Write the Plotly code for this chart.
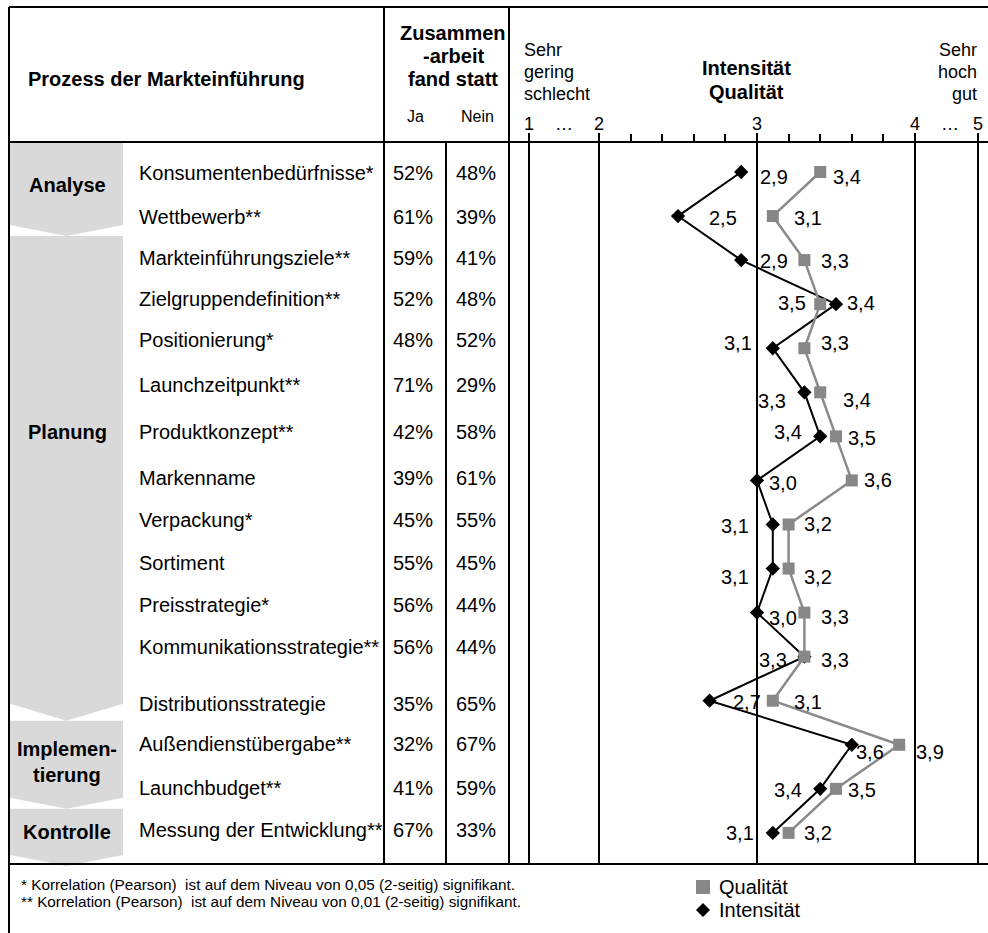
import plotly.graph_objects as go

W, H = 988, 933

# ---------------- data ----------------
activities = [
    "Konsumentenbedürfnisse*", "Wettbewerb**", "Markteinführungsziele**",
    "Zielgruppendefinition**", "Positionierung*", "Launchzeitpunkt**",
    "Produktkonzept**", "Markenname", "Verpackung*", "Sortiment",
    "Preisstrategie*", "Kommunikationsstrategie**", "Distributionsstrategie",
    "Außendienstübergabe**", "Launchbudget**", "Messung der Entwicklung**",
]
ja = [52, 61, 59, 52, 48, 71, 42, 39, 45, 55, 56, 56, 35, 32, 41, 67]
nein = [48, 39, 41, 48, 52, 29, 58, 61, 55, 45, 44, 44, 65, 67, 59, 33]
intensitaet = [2.9, 2.5, 2.9, 3.5, 3.1, 3.3, 3.4, 3.0, 3.1, 3.1, 3.0, 3.3, 2.7, 3.6, 3.4, 3.1]
qualitaet = [3.4, 3.1, 3.3, 3.4, 3.3, 3.4, 3.5, 3.6, 3.2, 3.2, 3.3, 3.3, 3.1, 3.9, 3.5, 3.2]

stages = ["Analyse", "Planung", "Implemen-", "Kontrolle"]
stage_rows = [(0, 1), (2, 12), (13, 14), (15, 15)]

scale_tickvals = [1.56, 2, 3, 4, 4.4]        # compressed scale: 1 and 5 drawn close to 2 and 4
scale_ticktext = ["1", "2", "3", "4", "5"]
gap_tickvals = [1.78, 4.22]                   # "…" marks of the compressed parts
minor_tickvals = [2.2, 2.4, 2.6, 2.8, 3.2, 3.4, 3.6, 3.8]

footnotes = [
    "* Korrelation (Pearson) \u00a0ist auf dem Niveau von 0,05 (2-seitig) signifikant.",
    "** Korrelation (Pearson) \u00a0ist auf dem Niveau von 0,01 (2-seitig) signifikant.",
]

# ---------------- layout helpers (pixels -> paper) ----------------
def X(px):
    return px / W

def Y(py):
    return 1 - py / H

FONT = "Arial, Liberation Sans, sans-serif"
TOP, HEAD, BOT = 7, 142, 864
ROW0, ROWSTEP = 172, 44.06
Y_RANGE = [(BOT - ROW0) / ROWSTEP, (HEAD - ROW0) / ROWSTEP]
X_LEFT, UNIT, X3 = 509, 158, 757
X_RANGE = [3 - (X3 - X_LEFT) / UNIT, 3 + (W - X3) / UNIT]

def row_to_px(r):
    return ROW0 + r * ROWSTEP

fig = go.Figure()

# data series
fig.add_trace(go.Scatter(
    x=intensitaet, y=list(range(len(activities))), mode="lines+markers",
    name="Intensität", line=dict(color="black", width=2),
    marker=dict(symbol="diamond", size=11, color="black"),
    cliponaxis=False, hoverinfo="skip", showlegend=False))
fig.add_trace(go.Scatter(
    x=qualitaet, y=list(range(len(activities))), mode="lines+markers",
    name="Qualität", line=dict(color="#8a8a8a", width=2.5),
    marker=dict(symbol="square", size=12, color="#878787"),
    cliponaxis=False, hoverinfo="skip", showlegend=False))

shapes = []
ann = []

def line(x0, y0, x1, y1, w=2):
    shapes.append(dict(type="line", xref="paper", yref="paper",
                       x0=X(x0), y0=Y(y0), x1=X(x1), y1=Y(y1),
                       line=dict(color="black", width=w)))

# stage chevrons (gray)
CX0, CX1 = 10, 123
CM = (CX0 + CX1) / 2
prev_tip = HEAD + 1
for (a, b) in stage_rows:
    tip = (row_to_px(b) + row_to_px(b + 1)) / 2 - 2
    if b == len(activities) - 1:
        tip = BOT + 2
    depth = 17 if (b - a) > 5 else 11
    edge = tip - depth
    path = (f"M {X(CX0)},{Y(prev_tip)} L {X(CX1)},{Y(prev_tip)} L {X(CX1)},{Y(edge)} "
            f"L {X(CM)},{Y(tip)} L {X(CX0)},{Y(edge)} Z")
    shapes.append(dict(type="path", xref="paper", yref="paper", path=path,
                       fillcolor="#d9d9d9", line=dict(width=0), layer="below"))
    prev_tip = tip

# table lines
line(9, TOP, W, TOP)
line(9, HEAD, W, HEAD)
line(9, BOT, W, BOT)
line(9, TOP, 9, H)
line(384, TOP, 384, BOT)
line(446, HEAD, 446, BOT)
line(509, TOP, 509, BOT)

def text(px, py, s, size=20, bold=False, anchor="center"):
    ann.append(dict(xref="paper", yref="paper", x=X(px), y=Y(py),
                    text=f"<b>{s}</b>" if bold else s, showarrow=False,
                    xanchor=anchor, yanchor="middle",
                    font=dict(family=FONT, size=size, color="black")))

# header
text(166, 79, "Prozess der Markteinführung", bold=True)
text(453, 33, "Zusammen", bold=True)
text(453, 56, "-arbeit", bold=True)
text(453, 79, "fand statt", bold=True)
text(415, 117, "Ja", size=16)
text(477, 117, "Nein", size=16)
text(522, 50, "Sehr", size=18, anchor="left")
text(522, 72, "gering", size=18, anchor="left")
text(522, 94, "schlecht", size=18, anchor="left")
text(979, 50, "Sehr", size=18, anchor="right")
text(979, 72, "hoch", size=18, anchor="right")
text(979, 94, "gut", size=18, anchor="right")
text(746, 68, "Intensität", bold=True)
text(746, 92, "Qualität", bold=True)

# scale labels above the ticks
for v, s in list(zip(scale_tickvals, scale_ticktext)) + [(g, "…") for g in gap_tickvals]:
    ann.append(dict(xref="x", yref="paper", x=v, y=Y(124), text=s, showarrow=False,
                    xanchor="center", yanchor="middle",
                    font=dict(family=FONT, size=18, color="black")))

# stage labels
stage_label_px = [185, 432, None, 832]
for s, py in zip(stages, stage_label_px):
    if s == "Implemen-":
        text(67, 749, "Implemen-", bold=True)
        text(67, 775, "tierung", bold=True)
    else:
        text(67, py, s, bold=True)

# row labels and percentages (aligned to the data rows)
label_dy = [1, 1, -2, -5, -8, -7, -4, -2, -4, -6, -8, -10, 3, -1, -1, -3]
for i, (act, j, n) in enumerate(zip(activities, ja, nein)):
    for xp, s, anc in [(137, act, "left"), (413, f"{j}%", "center"), (476, f"{n}%", "center")]:
        ann.append(dict(xref="paper", yref="y", x=X(xp), y=i, yshift=-label_dy[i],
                        text=s, showarrow=False, xanchor=anc, yanchor="middle",
                        font=dict(family=FONT, size=20, color="black")))

# value labels
i_dx = [33, 45, 33, -44, -35, -32, -32, 26, -38, -38, 26, -31, 37, 18, -32, -33]
i_dy = [5, 2, 1, -1, -5, 9, -4, 3, 2, 8, 5, 3, 1, 7, 1, 0]
q_dx = [27, 35, 31, 41, 31, 37, 26, 26, 29, 29, 31, 31, 35, 31, 26, 29]
q_dy = [5, 2, 1, -1, -5, 8, 2, 0, 0, 8, 4, 3, 1, 7, 1, 0]
for i in range(len(activities)):
    for v, dx, dy in [(intensitaet[i], i_dx[i], i_dy[i]), (qualitaet[i], q_dx[i], q_dy[i])]:
        ann.append(dict(xref="x", yref="y", x=v, y=i, xshift=dx, yshift=-dy,
                        text=f"{v:.1f}".replace(".", ","), showarrow=False,
                        xanchor="center", yanchor="middle",
                        font=dict(family=FONT, size=20, color="black")))

# footnotes
for k, s in enumerate(footnotes):
    text(19, 884 + 17 * k, s, size=15.3, anchor="left")

# legend (manual)
shapes.append(dict(type="rect", xref="paper", yref="paper",
                   x0=X(696), x1=X(710), y0=Y(880), y1=Y(894),
                   fillcolor="#878787", line=dict(width=0)))
shapes.append(dict(type="path", xref="paper", yref="paper",
                   path=f"M {X(703)},{Y(903)} L {X(710)},{Y(910)} L {X(703)},{Y(917)} L {X(696)},{Y(910)} Z",
                   fillcolor="black", line=dict(width=0)))
text(717, 887, "Qualität", size=20, anchor="left")
text(717, 910, "Intensität", size=20, anchor="left")

fig.update_layout(
    width=W, height=H, margin=dict(l=0, r=0, t=0, b=0),
    paper_bgcolor="white", plot_bgcolor="rgba(0,0,0,0)",
    shapes=shapes, annotations=ann, showlegend=False,
    font=dict(family=FONT, color="black"),
    xaxis=dict(domain=[X(X_LEFT), 1], range=X_RANGE, side="top",
               tickmode="array", tickvals=scale_tickvals, ticktext=scale_ticktext,
               showticklabels=False,
               ticks="outside", ticklen=8, tickwidth=1.5, tickcolor="black",
               showgrid=True, gridcolor="black", gridwidth=1.5,
               zeroline=False, showline=False, fixedrange=True,
               minor=dict(tickmode="array", tickvals=minor_tickvals, ticks="outside",
                          ticklen=7, tickwidth=1.5, tickcolor="black", showgrid=False)),
    yaxis=dict(domain=[Y(BOT), Y(HEAD)], range=[Y_RANGE[0], Y_RANGE[1]],
               visible=False, fixedrange=True),
)

fig.write_html("out.html", config={"displayModeBar": False},
               post_script="document.body.style.margin='0';document.body.style.overflow='hidden';")
